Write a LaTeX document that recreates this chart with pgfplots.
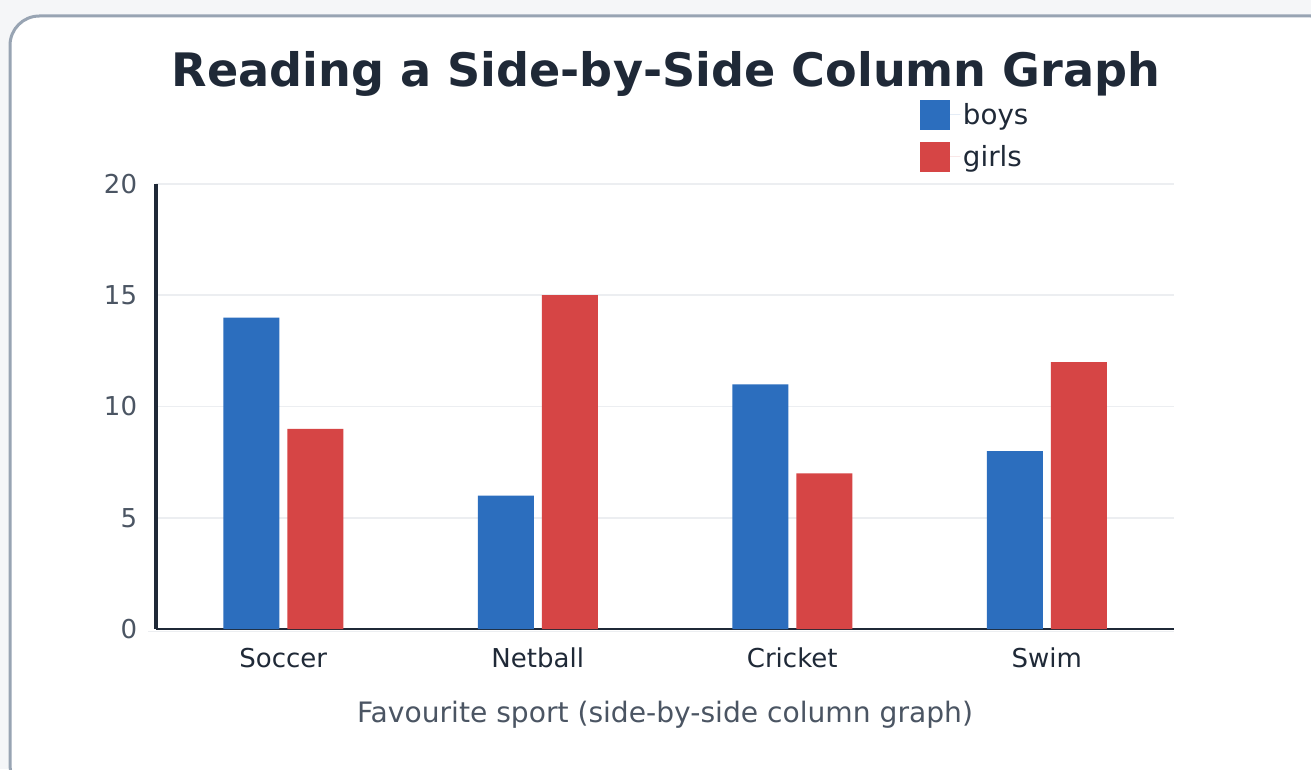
\documentclass[border=0pt]{standalone}
\usepackage{pgfplots}
\pgfplotsset{compat=1.18}
\usepackage{fontspec}
\setmainfont{DejaVu Sans}
\definecolor{boys}{HTML}{2C6EBE}
\definecolor{girls}{HTML}{D64545}
\definecolor{titlec}{HTML}{1F2937}
\definecolor{tickc}{HTML}{4B5563}
\definecolor{gridc}{HTML}{ECEEF1}
\definecolor{framec}{HTML}{98A4B3}
\definecolor{bgc}{HTML}{F5F6F8}
\begin{document}
\begin{tikzpicture}[x=0.75pt,y=0.75pt]
\path[use as bounding box] (0,0) rectangle (1311,769);
\clip (0,0) rectangle (1311,769);
\fill[bgc] (0,0) rectangle (1311,769);
\draw[framec, line width=2.25pt, fill=white, rounded corners=22pt] (10,-25) rectangle (1340,753);
\node[anchor=base, inner sep=0, font=\bfseries\fontsize{34.6}{40}\selectfont, text=titlec] at (666,682) {Reading a Side-by-Side Column Graph};
\begin{axis}[
  at={(117pt,105pt)}, anchor=south west,
  scale only axis, width=763.5pt, height=333.75pt,
  xmin=-0.5, xmax=3.5, ymin=0, ymax=20,
  ytick={0,5,10,15,20},
  xtick={0,1,2,3}, xticklabels={Soccer,Netball,Cricket,Swim},
  /pgf/number format/assume math mode=true,
  axis y line*=left, axis x line*=bottom,
  y axis line style={draw=titlec, line width=2.6pt, -},
  x axis line style={draw=titlec, line width=1.2pt, -},
  major tick length=0pt,
  ymajorgrids, grid style={gridc, line width=1.2pt},
  yticklabel style={text=tickc, font=\fontsize{19.5}{22}\selectfont, inner sep=0pt, anchor=east, xshift=-14pt},
  xticklabel style={text=titlec, font=\fontsize{19.5}{22}\selectfont, inner sep=0pt, anchor=north, yshift=-14pt},
  legend style={at={(0.7505,1.19)}, anchor=north west, draw=none, fill=none,
     font=\fontsize{20.8}{24}\selectfont, text=titlec, inner sep=0pt, row sep=9pt,
     nodes={inner sep=2pt}},
  legend cell align=left,
  legend image code/.code={\fill[#1] (0pt,-11.25pt) rectangle (22.5pt,11.25pt); \path (0pt,0pt) -- (30pt,0pt);},
]
\addplot[ybar, bar width=42pt, bar shift=-24pt, fill=boys, draw=none] coordinates {(0,14) (1,6) (2,11) (3,8)};
\addlegendentry{boys}
\addplot[ybar, bar width=42pt, bar shift=24pt, fill=girls, draw=none] coordinates {(0,9) (1,15) (2,7) (3,12)};
\addlegendentry{girls}
\end{axis}
\draw[gridc, line width=1.2pt] (148,137.5) -- (1174,137.5);
\node[anchor=base, inner sep=0, font=\fontsize{21.1}{24}\selectfont, text=tickc] at (665,47) {Favourite sport (side-by-side column graph)};
\end{tikzpicture}
\end{document}
